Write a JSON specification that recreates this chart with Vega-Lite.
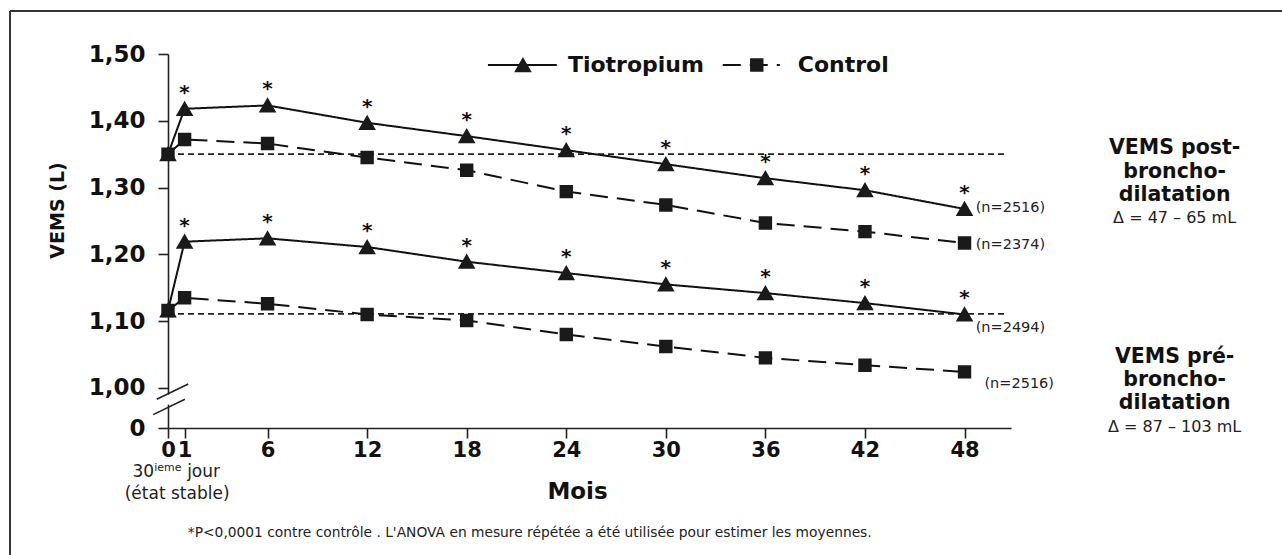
{
  "$schema": "https://vega.github.io/schema/vega-lite/v6.json",
  "width": 843,
  "height": 374,
  "autosize": {"type": "none"},
  "padding": {"left": 168, "top": 54, "right": 271, "bottom": 127},
  "background": "white",
  "config": {
    "view": {"stroke": null},
    "font": "DejaVu Sans",
    "axis": {"domainColor": "#222", "tickColor": "#222", "domainWidth": 1.6, "tickWidth": 1.6, "grid": false, "labelColor": "#111", "titleColor": "#111"}
  },
  "datasets": {
    "series": [
      {"month": 0, "value": 1.35, "group": "post", "treatment": "Tiotropium"},
      {"month": 1, "value": 1.418, "group": "post", "treatment": "Tiotropium"},
      {"month": 6, "value": 1.423, "group": "post", "treatment": "Tiotropium"},
      {"month": 12, "value": 1.397, "group": "post", "treatment": "Tiotropium"},
      {"month": 18, "value": 1.377, "group": "post", "treatment": "Tiotropium"},
      {"month": 24, "value": 1.356, "group": "post", "treatment": "Tiotropium"},
      {"month": 30, "value": 1.335, "group": "post", "treatment": "Tiotropium"},
      {"month": 36, "value": 1.314, "group": "post", "treatment": "Tiotropium"},
      {"month": 42, "value": 1.296, "group": "post", "treatment": "Tiotropium"},
      {"month": 48, "value": 1.268, "group": "post", "treatment": "Tiotropium"},
      {"month": 0, "value": 1.35, "group": "post", "treatment": "Control"},
      {"month": 1, "value": 1.372, "group": "post", "treatment": "Control"},
      {"month": 6, "value": 1.366, "group": "post", "treatment": "Control"},
      {"month": 12, "value": 1.345, "group": "post", "treatment": "Control"},
      {"month": 18, "value": 1.326, "group": "post", "treatment": "Control"},
      {"month": 24, "value": 1.294, "group": "post", "treatment": "Control"},
      {"month": 30, "value": 1.274, "group": "post", "treatment": "Control"},
      {"month": 36, "value": 1.247, "group": "post", "treatment": "Control"},
      {"month": 42, "value": 1.234, "group": "post", "treatment": "Control"},
      {"month": 48, "value": 1.217, "group": "post", "treatment": "Control"},
      {"month": 0, "value": 1.116, "group": "pre", "treatment": "Tiotropium"},
      {"month": 1, "value": 1.219, "group": "pre", "treatment": "Tiotropium"},
      {"month": 6, "value": 1.224, "group": "pre", "treatment": "Tiotropium"},
      {"month": 12, "value": 1.211, "group": "pre", "treatment": "Tiotropium"},
      {"month": 18, "value": 1.189, "group": "pre", "treatment": "Tiotropium"},
      {"month": 24, "value": 1.172, "group": "pre", "treatment": "Tiotropium"},
      {"month": 30, "value": 1.155, "group": "pre", "treatment": "Tiotropium"},
      {"month": 36, "value": 1.142, "group": "pre", "treatment": "Tiotropium"},
      {"month": 42, "value": 1.127, "group": "pre", "treatment": "Tiotropium"},
      {"month": 48, "value": 1.110, "group": "pre", "treatment": "Tiotropium"},
      {"month": 0, "value": 1.116, "group": "pre", "treatment": "Control"},
      {"month": 1, "value": 1.135, "group": "pre", "treatment": "Control"},
      {"month": 6, "value": 1.126, "group": "pre", "treatment": "Control"},
      {"month": 12, "value": 1.110, "group": "pre", "treatment": "Control"},
      {"month": 18, "value": 1.101, "group": "pre", "treatment": "Control"},
      {"month": 24, "value": 1.080, "group": "pre", "treatment": "Control"},
      {"month": 30, "value": 1.062, "group": "pre", "treatment": "Control"},
      {"month": 36, "value": 1.045, "group": "pre", "treatment": "Control"},
      {"month": 42, "value": 1.034, "group": "pre", "treatment": "Control"},
      {"month": 48, "value": 1.024, "group": "pre", "treatment": "Control"}
    ],
    "baselines": [{"y": 1.35}, {"y": 1.111}],
    "legendLines": [
      {"treatment": "Tiotropium", "x": 19.28, "x2": 23.43, "y": 1.4835, "mx": 21.39, "tx": 24.1, "label": "Tiotropium"},
      {"treatment": "Control", "x": 33.43, "x2": 36.87, "y": 1.4835, "mx": 35.48, "tx": 37.95, "label": "Control"}
    ],
    "nLabels": [
      {"x": 48.67, "y": 1.2695, "text": "(n=2516)"},
      {"x": 48.67, "y": 1.2141, "text": "(n=2374)"},
      {"x": 48.67, "y": 1.0898, "text": "(n=2494)"},
      {"x": 49.2, "y": 1.006, "text": "(n=2516)"}
    ],
    "boldNotes": [
      {"x": 60.66, "y": 1.3593, "text": "VEMS post-"},
      {"x": 60.66, "y": 1.3234, "text": "broncho-"},
      {"x": 60.66, "y": 1.2889, "text": "dilatation"},
      {"x": 60.66, "y": 1.0464, "text": "VEMS pré-"},
      {"x": 60.66, "y": 1.012, "text": "broncho-"},
      {"x": 60.66, "y": 0.9775, "text": "dilatation"}
    ],
    "deltaNotes": [
      {"x": 60.66, "y": 1.2545, "text": "Δ = 47 – 65 mL"},
      {"x": 60.66, "y": 0.9416, "text": "Δ = 87 – 103 mL"}
    ],
    "slashes": [
      {"x": -0.68, "x2": 1.22, "y": 0.983, "y2": 1.006},
      {"x": -0.89, "x2": 1.02, "y": 0.960, "y2": 0.983}
    ],
    "footText": [
      {"x": 0.55, "y": 0.8413, "text": "(état stable)"}
    ],
    "footnote": [
      {"x": 21.8, "y": 0.783, "text": "*P<0,0001 contre contrôle . L'ANOVA en mesure répétée a été utilisée pour estimer les moyennes."}
    ]
  },
  "layer": [
    {
      "data": {"values": [{"a": 1}]},
      "mark": {"type": "rule", "stroke": "white", "strokeWidth": 4},
      "encoding": {"x": {"datum": 0, "type": "quantitative", "scale": {"domain": [0, 50.8], "nice": false, "zero": false}}, "y": {"datum": 0.975, "type": "quantitative"}, "y2": {"datum": 0.99}}
    },
    {
      "data": {"name": "slashes"},
      "mark": {"type": "rule", "stroke": "#222", "strokeWidth": 1.6},
      "encoding": {"x": {"field": "x", "type": "quantitative"}, "x2": {"field": "x2"}, "y": {"field": "y", "type": "quantitative"}, "y2": {"field": "y2"}}
    },
    {
      "data": {"name": "baselines"},
      "mark": {"type": "rule", "stroke": "#222", "strokeWidth": 1.8, "strokeDash": [6, 4]},
      "encoding": {"x": {"datum": 0, "type": "quantitative"}, "x2": {"datum": 50.54}, "y": {"field": "y", "type": "quantitative"}}
    },
    {
      "data": {"name": "series"},
      "mark": {"type": "line", "stroke": "#111", "strokeWidth": 2},
      "encoding": {
        "x": {
          "field": "month", "type": "quantitative",
          "scale": {"domain": [0, 50.8], "nice": false, "zero": false},
          "axis": {
            "values": [0, 1, 6, 12, 18, 24, 30, 36, 42, 48],
            "tickSize": 10, "labelFontSize": 21, "labelFontWeight": "bold", "labelPadding": 1,
            "labelOverlap": false, "labelFlush": false,
            "title": "Mois", "titleFontSize": 23, "titleFontWeight": "bold", "titlePadding": 20, "titleX": 409
          }
        },
        "y": {
          "field": "value", "type": "quantitative",
          "scale": {"domain": [0.94, 1.5], "nice": false, "zero": false},
          "axis": {
            "values": [0.94, 1.0, 1.1, 1.2, 1.3, 1.4, 1.5],
            "labelExpr": "datum.value < 0.95 ? '0' : replace(format(datum.value, '.2f'), '.', ',')",
            "tickSize": 10, "labelFontSize": 23, "labelFontWeight": "bold", "labelPadding": 13,
            "labelOverlap": false, "labelFlush": false,
            "title": "VEMS (L)", "titleFontSize": 19, "titleFontWeight": "bold",
            "titleX": -111, "titleY": 156, "titleBaseline": "middle", "titleAlign": "center", "titleAngle": -90
          }
        },
        "detail": {"field": "group"},
        "strokeDash": {"field": "treatment", "type": "nominal", "scale": {"domain": ["Tiotropium", "Control"], "range": [[1, 0], [18, 9]]}, "legend": null}
      }
    },
    {
      "data": {"name": "series"},
      "mark": {"type": "point", "filled": true, "fill": "#1a1a1a", "stroke": "#1a1a1a", "opacity": 1},
      "encoding": {
        "x": {"field": "month", "type": "quantitative"},
        "y": {"field": "value", "type": "quantitative"},
        "shape": {"field": "treatment", "type": "nominal", "scale": {"domain": ["Tiotropium", "Control"], "range": ["triangle-up", "square"]}, "legend": null},
        "size": {"field": "treatment", "type": "nominal", "scale": {"domain": ["Tiotropium", "Control"], "range": [200, 130]}, "legend": null}
      }
    },
    {
      "data": {"name": "series"},
      "transform": [{"filter": "datum.treatment == 'Tiotropium' && datum.month > 0"}],
      "mark": {"type": "text", "text": "*", "fontSize": 20, "fontWeight": "bold", "dy": -16, "baseline": "middle", "color": "#111"},
      "encoding": {"x": {"field": "month", "type": "quantitative"}, "y": {"field": "value", "type": "quantitative"}}
    },
    {
      "data": {"name": "legendLines"},
      "mark": {"type": "rule", "stroke": "#111", "strokeWidth": 2},
      "encoding": {
        "x": {"field": "x", "type": "quantitative"}, "x2": {"field": "x2"}, "y": {"field": "y", "type": "quantitative"},
        "strokeDash": {"field": "treatment", "type": "nominal", "legend": null}
      }
    },
    {
      "data": {"name": "legendLines"},
      "mark": {"type": "point", "filled": true, "fill": "#1a1a1a", "stroke": "#1a1a1a", "opacity": 1},
      "encoding": {
        "x": {"field": "mx", "type": "quantitative"}, "y": {"field": "y", "type": "quantitative"},
        "shape": {"field": "treatment", "type": "nominal", "legend": null},
        "size": {"field": "treatment", "type": "nominal", "legend": null}
      }
    },
    {
      "data": {"name": "legendLines"},
      "mark": {"type": "text", "align": "left", "baseline": "middle", "fontSize": 22, "fontWeight": "bold", "color": "#111"},
      "encoding": {"x": {"field": "tx", "type": "quantitative"}, "y": {"field": "y", "type": "quantitative"}, "text": {"field": "label"}}
    },
    {
      "data": {"name": "nLabels"},
      "mark": {"type": "text", "align": "left", "baseline": "middle", "fontSize": 14.5, "color": "#222"},
      "encoding": {"x": {"field": "x", "type": "quantitative"}, "y": {"field": "y", "type": "quantitative"}, "text": {"field": "text"}}
    },
    {
      "data": {"name": "boldNotes"},
      "mark": {"type": "text", "align": "center", "baseline": "middle", "fontSize": 20.5, "fontWeight": "bold", "color": "#111"},
      "encoding": {"x": {"field": "x", "type": "quantitative"}, "y": {"field": "y", "type": "quantitative"}, "text": {"field": "text"}}
    },
    {
      "data": {"name": "deltaNotes"},
      "mark": {"type": "text", "align": "center", "baseline": "middle", "fontSize": 16, "color": "#222"},
      "encoding": {"x": {"field": "x", "type": "quantitative"}, "y": {"field": "y", "type": "quantitative"}, "text": {"field": "text"}}
    },
    {
      "data": {"values": [{"x": 0.55, "y": 0.8743}]},
      "layer": [
        {"mark": {"type": "text", "text": "30", "align": "right", "baseline": "middle", "fontSize": 17, "dx": -23, "color": "#222"}, "encoding": {"x": {"field": "x", "type": "quantitative"}, "y": {"field": "y", "type": "quantitative"}}},
        {"mark": {"type": "text", "text": "ieme", "align": "left", "baseline": "middle", "fontSize": 11, "dx": -23, "dy": -4, "color": "#222"}, "encoding": {"x": {"field": "x", "type": "quantitative"}, "y": {"field": "y", "type": "quantitative"}}},
        {"mark": {"type": "text", "text": "jour", "align": "left", "baseline": "middle", "fontSize": 17, "dx": 10, "color": "#222"}, "encoding": {"x": {"field": "x", "type": "quantitative"}, "y": {"field": "y", "type": "quantitative"}}}
      ]
    },
    {
      "data": {"name": "footText"},
      "mark": {"type": "text", "align": "center", "baseline": "middle", "fontSize": 17, "color": "#222"},
      "encoding": {"x": {"field": "x", "type": "quantitative"}, "y": {"field": "y", "type": "quantitative"}, "text": {"field": "text"}}
    },
    {
      "data": {"name": "footnote"},
      "mark": {"type": "text", "align": "center", "baseline": "middle", "fontSize": 13.8, "color": "#222"},
      "encoding": {"x": {"field": "x", "type": "quantitative"}, "y": {"field": "y", "type": "quantitative"}, "text": {"field": "text"}}
    },
    {
      "data": {"values": [{"a": 1}]},
      "layer": [
        {"mark": {"type": "rule", "stroke": "#333", "strokeWidth": 2}, "encoding": {"x": {"datum": -9.52, "type": "quantitative"}, "y": {"datum": 1.5644, "type": "quantitative"}, "y2": {"datum": 0.74}}},
        {"mark": {"type": "rule", "stroke": "#333", "strokeWidth": 2}, "encoding": {"x": {"datum": -9.52, "type": "quantitative"}, "x2": {"datum": 70}, "y": {"datum": 1.5644, "type": "quantitative"}}}
      ]
    }
  ]
}
